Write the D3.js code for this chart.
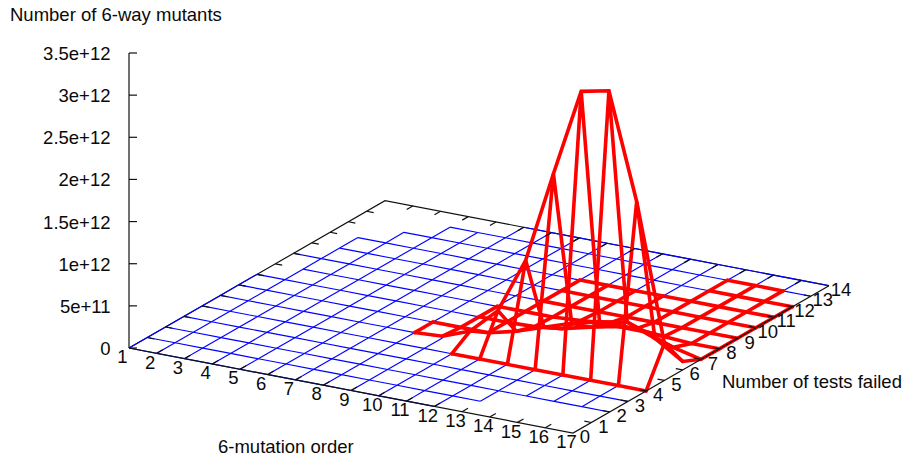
<!DOCTYPE html>
<html>
<head>
<meta charset="utf-8">
<script src="https://cdn.jsdelivr.net/npm/d3@7"></script>
<style>
html,body{margin:0;padding:0;background:#fff}
svg{display:block}
text{font-family:"Liberation Sans",Arial,sans-serif;font-size:18.5px;fill:#0a0a0a}
</style>
</head>
<body>
<svg id="chart" width="905" height="458"></svg>
<script>
// ---- data ----
const orderTicks = d3.range(1, 18);            // 6-mutation order 1..17
const failedTicks = d3.range(0, 15);           // tests failed 0..14
const countTicks = [0, 5e11, 1e12, 1.5e12, 2e12, 2.5e12, 3e12, 3.5e12];
const countLabels = ["0", "5e+11", "1e+12", "1.5e+12", "2e+12", "2.5e+12", "3e+12", "3.5e+12"];
const titleText = "Number of 6-way mutants";
const orderLabel = "6-mutation order";
const failedLabel = "Number of tests failed";

// extent of the measured grid: [failed, first order, last order]
const gridRows = [
  [0, 1, 12], [1, 1, 13], [2, 1, 17], [3, 1, 17], [4, 1, 17], [5, 1, 17], [6, 1, 17], [7, 1, 17],
  [8, 2, 17], [9, 1, 17], [10, 2, 17], [11, 2, 17], [12, 3, 17], [13, 4, 17], [14, 6, 17]
];
// [order, first failed, last failed]
const gridCols = [
  [1, 0, 7], [2, 0, 11], [3, 0, 12], [4, 0, 13], [5, 0, 13], [6, 0, 14], [7, 0, 14], [8, 0, 14],
  [9, 0, 14], [10, 0, 14], [11, 0, 14], [12, 0, 14], [13, 1, 14], [14, 2, 14], [15, 2, 14], [16, 2, 14]
];

// non-zero region: [failed, first order, counts...]
const redRow4  = [4, 10, 0, 0, 0, 0, 0, 0, 0, 0];
const redRow5  = [5, 8, 0, 2e10, 1.45e11, 4.5e11, 1.11e12, 2.2e12, 3.24e12, 3.31e12, 2.06e12, 4.4e11];
const redRow6  = [6, 8, 0, 0, 0, 8e10, 1.9e11, 3e11, 3.8e11, 4.4e11, 3.1e11, 1e11];
const redRow7  = [7, 9, 0, 0, 1e10, 5e10, 1.3e11, 2e11, 2e11, 8e10, 0];
const redRow8  = [8, 9, 0, 0, 0, 2e10, 5e10, 5e10, 2e10, 0, 0];
const redRow9  = [9, 10, 0, 0, 0, 0, 0, 0, 0, 0];
const redRow10 = [10, 10, 0, 0, 0, 0, 0, 0, 0, 0];
const redRow11 = [11, 10, 0, 0, 0, 0, 0, 0, 0, 0];
const redRow12 = [12, 14, 0, 0, 0, 0];
const redRow13 = [13, 14, 0, 0, 0];
const redRows = [redRow4, redRow5, redRow6, redRow7, redRow8, redRow9, redRow10, redRow11, redRow12, redRow13];

// ---- oblique projection built from linear scales ----
const oxToX = d3.scaleLinear().domain([1, 17]).range([0, 444]);
const oxToY = d3.scaleLinear().domain([1, 17]).range([0, 85]);
const fyToX = d3.scaleLinear().domain([0, 14]).range([0, 256]);
const fyToY = d3.scaleLinear().domain([0, 14]).range([0, -147.3]);
const zToY  = d3.scaleLinear().domain([0, 3.5e12]).range([0, -295]);
const originX = 129, originY = 348;
const px = (o, f) => originX + oxToX(o) + fyToX(f);
const py = (o, f, z) => originY + oxToY(o) + fyToY(f) + zToY(z || 0);
const line = d3.line().x(d => px(d[0], d[1])).y(d => py(d[0], d[1], d[2]));

const svg = d3.select("#chart");
const key = (o, f) => o + "_" + f;

// red vertices
const zAt = new Map();
redRows.forEach(r => r.slice(2).forEach((z, i) => zAt.set(key(r[1] + i, r[0]), z)));

// back border (under the plots)
const axisColor = "#111";
const backG = svg.append("g").attr("fill", "none").attr("stroke", axisColor).attr("stroke-width", 1.2);
backG.append("path").attr("d", line([[1, 0], [1, 14], [17, 14]]));
backG.append("path").attr("d", `M${originX},${originY}V${py(1, 0, 3.5e12)}`);

// blue grid: every measured edge not inside the red region
const blueEdges = [];
gridRows.forEach(([f, a, b]) => {
  for (let o = a; o < b; o++) if (!(zAt.has(key(o, f)) && zAt.has(key(o + 1, f)))) blueEdges.push([[o, f], [o + 1, f]]);
});
gridCols.forEach(([o, a, b]) => {
  for (let f = a; f < b; f++) if (!(zAt.has(key(o, f)) && zAt.has(key(o, f + 1)))) blueEdges.push([[o, f], [o, f + 1]]);
});
svg.append("g").attr("fill", "none").attr("stroke", "#0000ff").attr("stroke-width", 1.15)
  .selectAll("path").data(blueEdges).join("path").attr("d", line);

// red surface: one polyline per row and per column
const redLines = [];
redRows.forEach(r => redLines.push(r.slice(2).map((z, i) => [r[1] + i, r[0], z])));
orderTicks.forEach(o => {
  const pts = failedTicks.filter(f => zAt.has(key(o, f))).map(f => [o, f, zAt.get(key(o, f))]);
  if (pts.length > 1) redLines.push(pts);
});
svg.append("g").attr("fill", "none").attr("stroke", "#ff0000").attr("stroke-width", 3.6)
  .attr("stroke-linejoin", "miter").attr("stroke-miterlimit", 3).attr("stroke-linecap", "round")
  .selectAll("path").data(redLines).join("path").attr("d", line);

// front border and ticks
const frontG = svg.append("g").attr("fill", "none").attr("stroke", axisColor).attr("stroke-width", 1.2);
frontG.append("path").attr("d", line([[1, 0], [17, 0], [17, 14]]));
orderTicks.slice(1, -1).forEach(o => {
  frontG.append("path").attr("d", line([[o, 0], [o, 0.33]]));
  frontG.append("path").attr("d", line([[o, 14], [o, 13.67]]));
});
failedTicks.slice(1, -1).forEach(f => {
  frontG.append("path").attr("d", line([[17, f], [16.75, f]]));
  frontG.append("path").attr("d", line([[1, f], [1.25, f]]));
});
countTicks.forEach(z => {
  frontG.append("path").attr("d", `M${originX},${py(1, 0, z)}h8`);
});

// labels
const texts = svg.append("g");
countTicks.forEach((z, i) => {
  texts.append("text").attr("x", 110.5).attr("y", py(1, 0, z) + 7)
    .attr("text-anchor", "end").text(countLabels[i]);
});
orderTicks.forEach(o => {
  texts.append("text").attr("x", px(o, 0) - 6.5).attr("y", py(o, 0) + 15.2)
    .attr("text-anchor", "middle").text(o);
});
failedTicks.forEach(f => {
  texts.append("text").attr("x", px(17, f) + 12).attr("y", py(17, f) + 10.2)
    .attr("text-anchor", "middle").text(f);
});
texts.append("text").attr("x", 10).attr("y", 21).text(titleText);
texts.append("text").attr("x", 218).attr("y", 453).text(orderLabel);
texts.append("text").attr("x", 722).attr("y", 388).text(failedLabel);
</script>
</body>
</html>
